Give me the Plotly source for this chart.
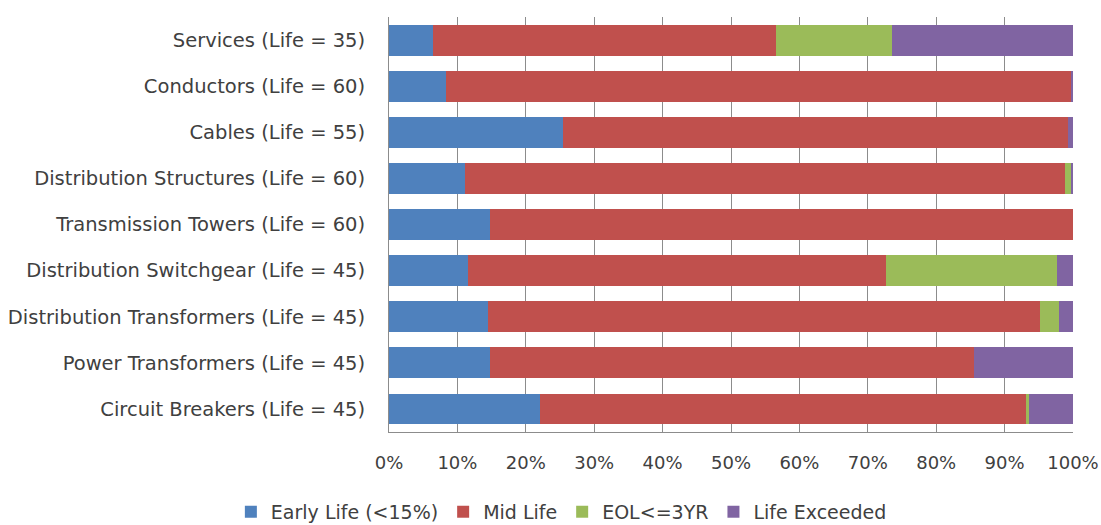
import plotly.graph_objects as go

categories = [
    "Services (Life = 35)",
    "Conductors (Life = 60)",
    "Cables (Life = 55)",
    "Distribution Structures (Life = 60)",
    "Transmission Towers (Life = 60)",
    "Distribution Switchgear (Life = 45)",
    "Distribution Transformers (Life = 45)",
    "Power Transformers (Life = 45)",
    "Circuit Breakers (Life = 45)",
]

early_life = [6.5, 8.4, 25.4, 11.1, 14.8, 11.5, 14.4, 14.8, 22.1]
mid_life = [50.1, 91.3, 73.9, 87.8, 85.2, 61.1, 80.8, 70.7, 71.1]
eol_3yr = [16.9, 0.0, 0.0, 0.9, 0.0, 25.0, 2.7, 0.0, 0.4]
life_exceeded = [26.5, 0.3, 0.7, 0.2, 0.0, 2.4, 2.1, 14.5, 6.4]

series_names = ["Early Life (<15%)", "Mid Life", "EOL<=3YR", "Life Exceeded"]
series_values = [early_life, mid_life, eol_3yr, life_exceeded]
series_colors = ["#4F81BD", "#C0504D", "#9BBB59", "#8064A2"]

x_ticks = list(range(0, 101, 10))
x_tick_labels = [f"{v}%" for v in x_ticks]

font_family = "'DejaVu Sans', sans-serif"
text_color = "#404040"
grid_color = "#8c8c8c"

fig = go.Figure()
for name, vals, color in zip(series_names, series_values, series_colors):
    fig.add_trace(go.Bar(
        name=name,
        y=categories,
        x=vals,
        orientation="h",
        marker=dict(color=color, line=dict(width=0)),
    ))

fig.update_layout(
    barmode="stack",
    bargap=0.33,
    width=1101,
    height=525,
    margin=dict(l=389, r=28, t=17, b=93, autoexpand=False),
    paper_bgcolor="white",
    plot_bgcolor="white",
    font=dict(family=font_family, size=18, color=text_color),
    legend=dict(
        orientation="h",
        x=0.252,
        xanchor="center",
        yref="container",
        y=0.025,
        yanchor="middle",
        font=dict(size=19, color=text_color),
        itemwidth=30,
        traceorder="normal",
    ),
    xaxis=dict(
        range=[0, 100],
        tickvals=x_ticks,
        ticktext=x_tick_labels,
        tickfont=dict(size=18),
        showgrid=True,
        gridcolor=grid_color,
        gridwidth=1,
        showline=True,
        linecolor=grid_color,
        linewidth=1,
        zeroline=False,
        ticks="",
        ticklabelstandoff=14,
        layer="below traces",
        automargin=False,
    ),
    yaxis=dict(
        categoryorder="array",
        categoryarray=categories,
        autorange="reversed",
        tickfont=dict(size=19.5),
        showline=True,
        linecolor=grid_color,
        linewidth=1,
        showgrid=False,
        ticks="",
        ticklabelstandoff=19,
        automargin=False,
    ),
)

fig.write_html("out.html")
